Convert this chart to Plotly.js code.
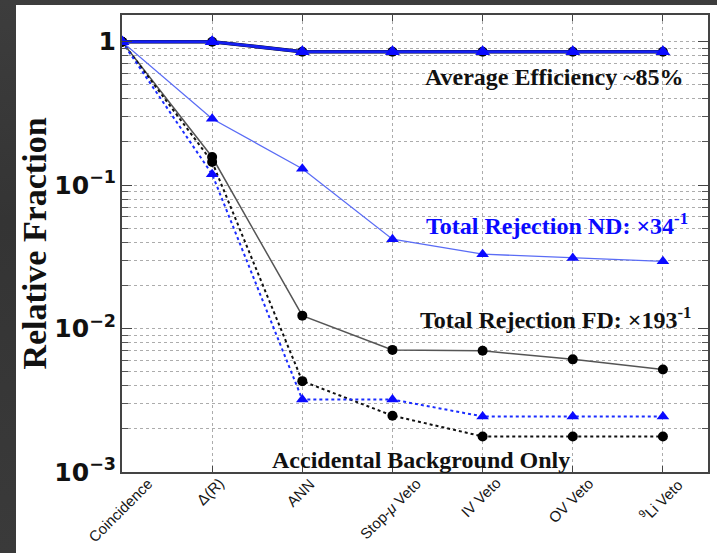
<!DOCTYPE html>
<html>
<head>
<meta charset="utf-8">
<script src="https://cdn.plot.ly/plotly-3.0.1.min.js"></script>
<style>
  html, body { margin: 0; padding: 0; }
  body {
    width: 717px; height: 553px; overflow: hidden; position: relative;
    background: linear-gradient(180deg, #3d3d3d 0%, #343434 40%, #3a3a3a 100%);
  }
  #chart { position: absolute; left: 16px; top: 5px; width: 701px; height: 548px; background: #fff; }
</style>
</head>
<body>
<div id="chart"></div>
<script>
// Selection steps along the x axis
const steps = ['Coincidence', 'Δ(R)', 'ANN', 'Stop-<i>μ</i> Veto', 'IV Veto', 'OV Veto', '<sup>9</sup>Li Veto'];
const stepIndex = [0, 1, 2, 3, 4, 5, 6];

// Total rejection factors quoted on the plot
const ndRejectionFactor = 34;
const fdRejectionFactor = 193;

// Signal efficiency after each cut
const effFD = [1, 1, 0.85, 0.85, 0.85, 0.85, 0.85];
const effND = [1, 1, 0.85, 0.85, 0.85, 0.85, 0.85];

// Surviving background fraction after each cut
const rejND = [1, 0.29, 0.13, 0.042, 0.033, 0.031, 1 / ndRejectionFactor];
const rejFD = [1, 0.157, 0.0123, 0.0071, 0.0070, 0.0061, 1 / fdRejectionFactor];

// Accidental background only
const accFD = [1, 0.145, 0.0043, 0.00247, 0.00177, 0.00177, 0.00177];
const accND = [1, 0.119, 0.0032, 0.0032, 0.00244, 0.00244, 0.00244];

const BLUE = '#0a0aff';
const circle = { symbol: 'circle', size: 10, color: '#000' };
const triangle = { symbol: 'triangle-up', size: 11, color: BLUE };

const traces = [
  { x: stepIndex, y: rejFD, mode: 'lines+markers', line: { color: '#555', width: 1.5 }, marker: circle },
  { x: stepIndex, y: accFD, mode: 'lines+markers', line: { color: '#111', width: 2, dash: 'dot' }, marker: circle },
  { x: stepIndex, y: accND, mode: 'lines+markers', line: { color: '#1a2cff', width: 2, dash: 'dot' }, marker: triangle },
  { x: stepIndex, y: rejND, mode: 'lines+markers', line: { color: '#5a6cf5', width: 1.3 }, marker: triangle },
  { x: stepIndex, y: effFD, mode: 'lines+markers', line: { color: '#000', width: 3.5 }, marker: circle },
  { x: stepIndex, y: effND, mode: 'lines+markers', line: { color: '#1520f0', width: 3 },
    marker: Object.assign({}, triangle, { size: 13 }) }
];

const serifBold = { family: 'Liberation Serif, Times New Roman, serif', size: 24, weight: 'bold', color: '#111' };

// Rotated step names under the axis, centred on each step
const stepLabels = steps.map((s, i) => ({
  text: s, x: stepIndex[i], xref: 'x', y: 0, yref: 'paper', yshift: 0, xshift: -2,
  xanchor: 'center', yanchor: 'top', textangle: -45, showarrow: false,
  font: { family: 'Liberation Sans, Arial, sans-serif', size: 15, color: '#151515' }
}));

const notes = [
  { text: 'Average Efficiency ~85%', x: 0.9625, y: 0.864, xanchor: 'right', yanchor: 'middle', font: serifBold },
  { text: 'Total Rejection ND: ×' + ndRejectionFactor + '<sup>-1</sup>', x: 0.969, y: 0.543, xanchor: 'right', yanchor: 'middle',
    font: Object.assign({}, serifBold, { color: BLUE }) },
  { text: 'Total Rejection FD: ×' + fdRejectionFactor + '<sup>-1</sup>', x: 0.974, y: 0.337, xanchor: 'right', yanchor: 'middle', font: serifBold },
  { text: 'Accidental Background Only', x: 0.511, y: 0.026, xanchor: 'center', yanchor: 'middle', font: serifBold }
].map(a => Object.assign({ xref: 'paper', yref: 'paper', showarrow: false }, a));

const gridStyle = { gridcolor: '#acacac', griddash: 'dot', gridwidth: 1 };

const layout = {
  width: 701, height: 548,
  margin: { l: 106, r: 9, t: 10, b: 81 },
  paper_bgcolor: '#fff', plot_bgcolor: '#fff',
  showlegend: false,
  xaxis: Object.assign({
    range: [0, 6.5], tickvals: stepIndex, showticklabels: false,
    showgrid: true, zeroline: false,
    showline: true, linecolor: '#444', linewidth: 2, mirror: 'allticks',
    ticks: 'inside', ticklen: 6, tickcolor: '#444'
  }, gridStyle),
  yaxis: Object.assign({
    type: 'log', range: [-3, 0.186], dtick: 1, exponentformat: 'power',
    showgrid: true, zeroline: false,
    showline: true, linecolor: '#444', linewidth: 2, mirror: 'allticks',
    ticks: 'inside', ticklen: 10, tickcolor: '#444',
    tickfont: { family: 'DejaVu Sans, sans-serif', size: 20, weight: 'bold', color: '#111' },
    minor: Object.assign({ dtick: 'D1', showgrid: true, ticks: 'inside', ticklen: 6, tickcolor: '#555' }, gridStyle),
    title: { text: 'Relative Fraction', standoff: 10,
      font: { family: 'Liberation Serif, Times New Roman, serif', size: 34, weight: 'bold', color: '#111' } },
    automargin: false
  }, gridStyle),
  annotations: stepLabels.concat(notes)
};

Plotly.newPlot('chart', traces, layout, { displayModeBar: false, staticPlot: true });
</script>
</body>
</html>
